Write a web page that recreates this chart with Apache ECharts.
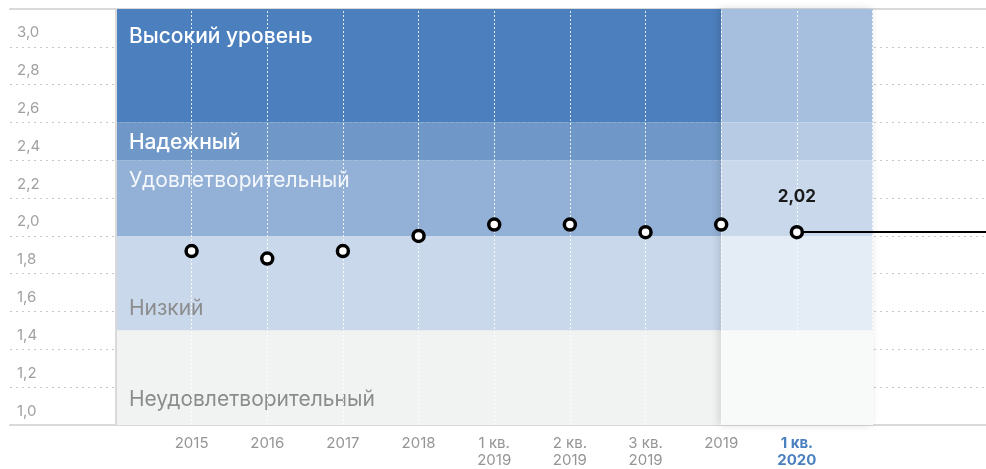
<!DOCTYPE html>
<html>
<head>
<meta charset="utf-8">
<title>Уровень</title>
<script src="https://cdn.jsdelivr.net/npm/echarts@6/dist/echarts.min.js"></script>
<style>
  html, body { margin: 0; padding: 0; background: #fff; }
  #chart { width: 986px; height: 469px; }
</style>
</head>
<body>
<div id="chart"></div>
<script>
var chart = echarts.init(document.getElementById('chart'));

// категории по оси X и значения показателя
var categories = ['2015', '2016', '2017', '2018', '1 кв.\n2019', '2 кв.\n2019', '3 кв.\n2019', '2019', '1 кв.\n2020'];
var values = [1.92, 1.88, 1.92, 2.00, 2.06, 2.06, 2.02, 2.06, 2.02];

// зоны оценки: название, нижняя и верхняя граница
var bandNames = ['Высокий уровень', 'Надежный', 'Удовлетворительный', 'Низкий', 'Неудовлетворительный'];
var bandLow = [2.6, 2.4, 2.0, 1.5, 1.0];
var bandHigh = [3.2, 2.6, 2.4, 2.0, 1.5];

// шкала Y
var yMin = 1.0, yMax = 3.2, yStep = 0.2;

// оформление зон
var bandColors = ['#4c7fbd', '#6f98c9', '#93b0d6', '#c9d8eb', '#f1f2f2'];
var bandLabelColors = ['#ffffff', '#ffffff', 'rgba(255,255,255,0.9)', '#8c8c8c', '#8c8c8c'];
var bandLabelWeights = [500, 500, 400, 400, 400];
var bandLabelTop = [28, 20, 20, 73, 69];

var fontFamily = 'Inter, Roboto, sans-serif';
var xMin = -2.4, xMax = 10.5;
var last = values.length - 1;
var lightFrom = 7; // с "2019" зоны светлее

function lighten(hex) {
    var r = parseInt(hex.substr(1, 2), 16), g = parseInt(hex.substr(3, 2), 16), b = parseInt(hex.substr(5, 2), 16);
    return 'rgb(' + [r, g, b].map(function (c) { return Math.round(c + (255 - c) * 0.5); }).join(',') + ')';
}

var bandAreas = bandNames.map(function (name, i) {
    return [
        {
            name: name,
            xAxis: -1,
            yAxis: bandHigh[i],
            itemStyle: { color: bandColors[i] },
            label: {
                show: true,
                position: [13, bandLabelTop[i]],
                verticalAlign: 'middle',
                align: 'left',
                color: bandLabelColors[i],
                fontWeight: bandLabelWeights[i],
                fontSize: 21,
                fontFamily: fontFamily
            }
        },
        { xAxis: categories.length, yAxis: bandLow[i] }
    ];
});

var lightAreas = bandNames.map(function (name, i) {
    return [
        { xAxis: lightFrom, yAxis: bandHigh[i], itemStyle: { color: lighten(bandColors[i]) } },
        { xAxis: categories.length, yAxis: bandLow[i] }
    ];
});

var pointData = values.map(function (v, i) {
    var item = { value: [i, v] };
    if (i === last) {
        item.label = {
            show: true,
            position: 'top',
            distance: 19,
            formatter: function (p) { return p.value[1].toFixed(2).replace('.', ','); },
            color: '#1a1a1a',
            fontWeight: 'bold',
            fontSize: 17,
            fontFamily: fontFamily
        };
    }
    return item;
});

var vLines = [];
for (var i = 0; i <= categories.length; i++) {
    vLines.push({ xAxis: i });
}

function helper(z, extra) {
    var s = { type: 'line', z: z, silent: true, symbol: 'none', lineStyle: { opacity: 0 }, data: [] };
    for (var k in extra) s[k] = extra[k];
    return s;
}

option = {
    animation: false,
    grid: { left: 10, right: 0, top: 9, bottom: 44 },
    xAxis: [
        {
            type: 'value',
            min: xMin,
            max: xMax,
            axisLine: { show: true, onZero: false, lineStyle: { color: '#d9d9d9', width: 2 } },
            axisTick: { show: false },
            splitLine: { show: false },
            axisLabel: {
                customValues: categories.map(function (c, i) { return i; }),
                margin: 10,
                color: '#959595',
                fontSize: 15,
                lineHeight: 17,
                fontFamily: fontFamily,
                formatter: function (v) {
                    var c = categories[Math.round(v)];
                    if (c === undefined) return '';
                    if (Math.round(v) === last) {
                        return c.split('\n').map(function (s) { return '{cur|' + s + '}'; }).join('\n');
                    }
                    return c;
                },
                rich: {
                    cur: { color: '#4a7fc0', fontWeight: 'bold', fontSize: 15, lineHeight: 17, fontFamily: fontFamily }
                }
            }
        },
        {
            type: 'value',
            position: 'top',
            min: xMin,
            max: xMax,
            axisLine: { show: true, onZero: false, lineStyle: { color: '#d9d9d9', width: 2 } },
            axisTick: { show: false },
            axisLabel: { show: false },
            splitLine: { show: false }
        }
    ],
    yAxis: {
        type: 'value',
        min: yMin,
        max: yMax,
        interval: yStep,
        axisLine: { show: true, lineStyle: { color: '#d9d9d9', width: 2 } },
        axisTick: { show: false },
        axisLabel: {
            inside: true,
            margin: 7,
            verticalAlign: 'bottom',
            lineHeight: 28,
            color: '#a0a0a0',
            fontSize: 15,
            fontFamily: fontFamily,
            formatter: function (v) {
                if (v > 3.1) return '';
                return v.toFixed(1).replace('.', ',');
            }
        },
        splitLine: { show: true, lineStyle: { color: '#c8c8c8', type: [2, 4], width: 1 } }
    },
    series: [
        helper(2, { // зоны
            data: pointData.map(function (d) { return d.value; }),
            markArea: { silent: true, data: bandAreas }
        }),
        helper(3, { // подложка с тенью справа
            markArea: {
                silent: true,
                itemStyle: {
                    color: '#ffffff',
                    shadowBlur: 8,
                    shadowOffsetX: -2,
                    shadowColor: 'rgba(0,0,0,0.14)'
                },
                data: [[{ xAxis: lightFrom, yAxis: yMax }, { xAxis: categories.length, yAxis: yMin }]]
            }
        }),
        helper(4, { // светлые зоны справа
            markArea: { silent: true, data: lightAreas }
        }),
        helper(5, { // вертикальные линии
            markLine: {
                silent: true,
                symbol: 'none',
                label: { show: false },
                lineStyle: { color: 'rgba(255,255,255,0.85)', type: [2, 2], width: 1 },
                data: vLines.concat([{ xAxis: -1, lineStyle: { color: '#d9d9d9', type: 'solid', width: 2 } }])
            }
        }),
        {
            type: 'scatter',
            z: 6,
            symbol: 'circle',
            symbolSize: 11,
            itemStyle: { color: '#ffffff', borderColor: '#000000', borderWidth: 3.5, opacity: 1 },
            data: pointData,
            markLine: {
                silent: true,
                symbol: 'none',
                label: { show: false },
                lineStyle: { color: '#000000', type: 'solid', width: 2 },
                data: [[{ coord: [last, values[last]] }, { coord: [xMax, values[last]] }]]
            }
        }
    ]
};

chart.setOption(option);
</script>
</body>
</html>
